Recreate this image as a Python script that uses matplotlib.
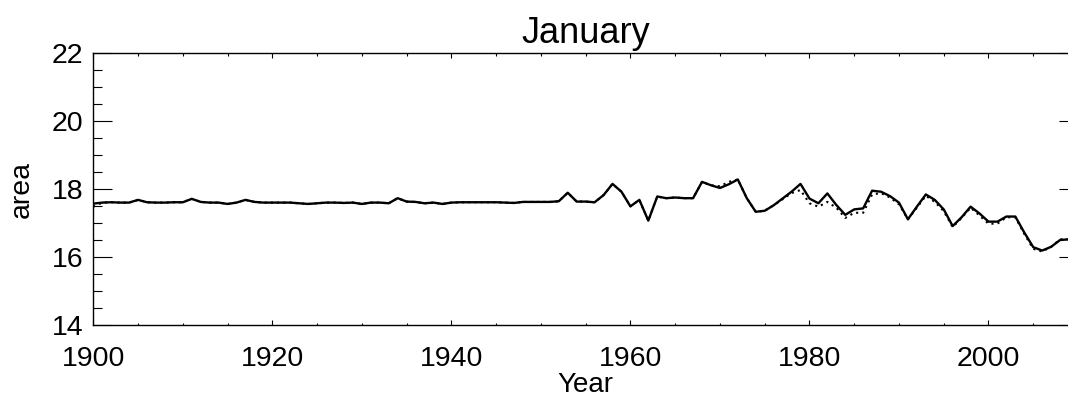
import matplotlib
matplotlib.use("Agg")
import matplotlib.pyplot as plt
from matplotlib.ticker import MultipleLocator

plt.rcParams['font.family'] = ['Liberation Sans', 'DejaVu Sans']

years = list(range(1900, 2010))

area_solid = [
    17.57, 17.60, 17.61, 17.60, 17.60, 17.68, 17.61, 17.60, 17.60, 17.61,  # 1900s
    17.61, 17.71, 17.62, 17.60, 17.60, 17.56, 17.60, 17.68, 17.62, 17.60,  # 1910s
    17.60, 17.60, 17.60, 17.58, 17.56, 17.58, 17.60, 17.60, 17.59, 17.60,  # 1920s
    17.56, 17.60, 17.60, 17.58, 17.73, 17.63, 17.62, 17.58, 17.60, 17.56,  # 1930s
    17.60, 17.61, 17.61, 17.61, 17.61, 17.61, 17.60, 17.59, 17.62, 17.62,  # 1940s
    17.62, 17.62, 17.64, 17.89, 17.63, 17.63, 17.61, 17.82, 18.15, 17.92,  # 1950s
    17.49, 17.68, 17.07, 17.78, 17.73, 17.75, 17.73, 17.73, 18.21, 18.11,  # 1960s
    18.03, 18.14, 18.28, 17.73, 17.33, 17.36, 17.52, 17.72, 17.92, 18.15,  # 1970s
    17.72, 17.58, 17.87, 17.53, 17.24, 17.40, 17.43, 17.95, 17.92, 17.79,  # 1980s
    17.60, 17.11, 17.48, 17.84, 17.68, 17.40, 16.91, 17.17, 17.48, 17.28,  # 1990s
    17.04, 17.04, 17.19, 17.19, 16.72, 16.29, 16.19, 16.30, 16.50, 16.52,  # 2000s
]

area_dotted = [
    17.48, 17.60, 17.61, 17.60, 17.60, 17.68, 17.61, 17.60, 17.60, 17.61,
    17.61, 17.71, 17.62, 17.60, 17.60, 17.56, 17.60, 17.68, 17.62, 17.60,
    17.60, 17.60, 17.60, 17.58, 17.56, 17.58, 17.60, 17.60, 17.59, 17.60,
    17.56, 17.60, 17.60, 17.58, 17.73, 17.63, 17.62, 17.58, 17.60, 17.56,
    17.60, 17.61, 17.61, 17.61, 17.61, 17.61, 17.60, 17.59, 17.62, 17.62,
    17.62, 17.62, 17.64, 17.89, 17.63, 17.63, 17.61, 17.82, 18.15, 17.92,
    17.49, 17.68, 17.07, 17.78, 17.73, 17.75, 17.73, 17.73, 18.21, 18.11,
    18.08, 18.21, 18.28, 17.73, 17.33, 17.36, 17.52, 17.70, 17.88, 17.97,
    17.58, 17.48, 17.62, 17.45, 17.15, 17.30, 17.30, 17.84, 17.88, 17.75,
    17.55, 17.11, 17.45, 17.80, 17.62, 17.35, 16.88, 17.15, 17.45, 17.22,
    16.98, 16.98, 17.17, 17.17, 16.68, 16.24, 16.16, 16.30, 16.52, 16.52,
]

title = "January"
xlabel = "Year"
ylabel = "area"
xlim = (1900, 2010)
ylim = (14, 22)

W, H = 1068, 398
fig = plt.figure(figsize=(W / 100, H / 100), dpi=100)
left, right, top, bottom = 93.3, 1078, 53, 325
ax = fig.add_axes([left / W, 1 - bottom / H, (right - left) / W, (bottom - top) / H])

ax.plot(years, area_dotted, color='black', lw=1.5, linestyle=(0, (1, 2.0)))
ax.plot(years, area_solid, color='black', lw=1.7)

ax.set_xlim(*xlim)
ax.set_ylim(*ylim)
ax.xaxis.set_major_locator(MultipleLocator(20))
ax.xaxis.set_minor_locator(MultipleLocator(5))
ax.yaxis.set_major_locator(MultipleLocator(2))
ax.yaxis.set_minor_locator(MultipleLocator(0.5))

ax.tick_params(axis='both', which='both', direction='in', top=True, right=True,
               width=0.8, colors='black', labelsize=20.5)
ax.tick_params(axis='y', which='major', length=13.7, pad=7)
ax.tick_params(axis='y', which='minor', length=6.8)
ax.tick_params(axis='x', which='major', length=3.6, pad=15)
ax.tick_params(axis='x', which='minor', length=1.8)
for s in ax.spines.values():
    s.set_linewidth(1.0)

ax.set_title(title, fontsize=26, pad=7)
ax.set_xlabel(xlabel, fontsize=20, labelpad=0)
ax.set_ylabel(ylabel, fontsize=20.5, labelpad=12.5)

fig.savefig("out.png", dpi=100)
